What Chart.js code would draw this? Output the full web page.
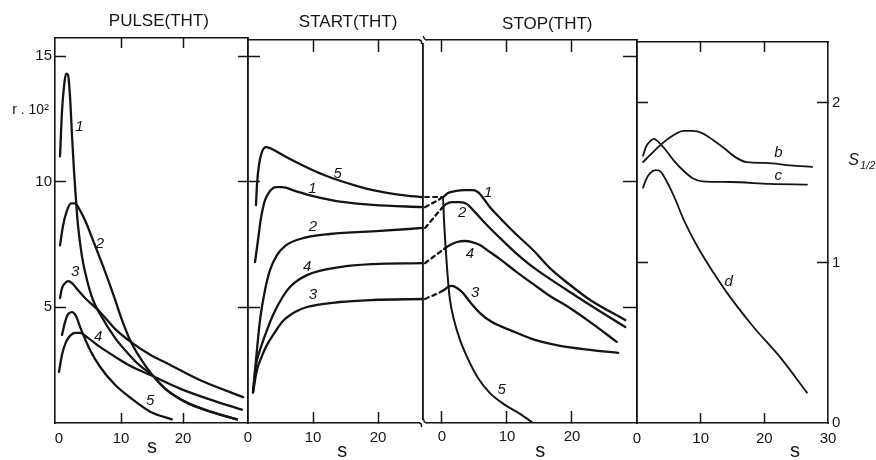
<!DOCTYPE html>
<html><head><meta charset="utf-8">
<script src="https://cdn.jsdelivr.net/npm/chart.js@4.4.1/dist/chart.umd.min.js"></script>
<style>
html,body{margin:0;padding:0;background:#fff;}
#wrap{position:relative;width:876px;height:460px;overflow:hidden;background:#fff;}
#wrap canvas{position:absolute;left:0;top:0;}
</style></head><body>
<div id="wrap">
<canvas id="cPulse" width="876" height="460"></canvas>
<canvas id="cStart" width="876" height="460"></canvas>
<canvas id="cStop" width="876" height="460"></canvas>
<canvas id="cRight" width="876" height="460"></canvas>
</div>
<script>
// ---------------- DATA ----------------
// PULSE(THT): time s, r.10^2
const pulse1S = [0.16,0.48,0.81,1.13,1.45,1.77,2.1,2.42,2.74,3.06,3.71,4.52,5.48,6.61,9.03,11.45,13.06,15.0,17.1,20.3,24.4,28.7];
const pulse1R = [11.0,12.8,13.8,14.3,14.25,13.4,11.8,10.4,9.25,8.25,7.0,6.07,5.28,4.72,3.77,3.06,2.66,2.30,1.75,1.23,0.83,0.52];
const pulse2S = [0.16,0.65,1.29,1.94,2.58,3.39,4.35,5.48,6.61,7.74,9.03,10.16,11.45,13.06,15.0,17.1,20.3,24.4,28.7];
const pulse2R = [7.46,8.25,8.85,9.13,9.13,8.85,8.37,7.66,6.94,6.20,5.30,4.48,3.69,2.98,2.30,1.75,1.23,0.83,0.52];
const pulse3S = [0.16,0.48,0.97,1.45,2.1,3.06,4.19,6.61,9.03,11.9,14.7,17.4,22.7,29.7];
const pulse3R = [5.36,5.75,5.95,6.03,5.95,5.67,5.36,4.80,4.13,3.55,3.10,2.76,2.09,1.41];
const pulse4S = [0.0,0.48,1.13,1.77,2.58,3.39,4.68,6.61,9.03,11.45,15.0,19.5,24.4,29.5];
const pulse4R = [2.42,3.10,3.61,3.85,3.97,3.97,3.77,3.41,3.02,2.66,2.26,1.75,1.31,0.91];
const pulse5S = [0.48,0.97,1.45,2.1,2.74,3.39,5.0,6.61,9.03,11.9,14.7,18.2];
const pulse5R = [3.89,4.40,4.72,4.80,4.64,4.21,3.29,2.62,1.90,1.31,0.83,0.52];

// START(THT)
const start5S = [1.23,1.38,1.69,2.15,2.77,3.38,4.92,6.46,9.08,11.5,14.15,16.8,19.2,23.4,26.9];
const start5R = [9.06,9.86,10.66,11.18,11.37,11.33,11.12,10.90,10.56,10.28,10.03,9.82,9.66,9.47,9.38];
const start1S = [1.08,1.54,2.0,2.62,3.38,4.31,5.23,7.23,9.08,11.5,14.15,19.2,26.9];
const start1R = [6.79,7.67,8.55,9.26,9.62,9.78,9.78,9.63,9.48,9.33,9.20,9.07,8.98];
const start2S = [0.77,1.23,1.85,2.62,3.38,4.46,5.69,8.0,12.6,20.3,26.9];
const start2R = [1.6,2.89,4.48,5.68,6.47,7.07,7.43,7.71,7.91,8.03,8.15];
const start4S = [0.77,1.23,1.85,2.92,3.85,5.23,6.46,9.08,14.15,19.2,26.9];
const start4R = [1.6,2.69,3.29,4.08,4.68,5.36,5.80,6.27,6.59,6.71,6.75];
const start3S = [0.77,1.38,2.15,2.92,4.15,5.38,7.23,9.08,14.15,19.2,26.9];
const start3R = [1.6,2.49,3.05,3.49,4.0,4.44,4.80,5.0,5.20,5.28,5.32];

// STOP(THT) (first point: dashed link from the START level)
const stop5S = [-2.6,0.15,0.31,0.62,0.92,1.23,1.85,2.77,3.85,5.54,7.38,9.69,12.0,14.0];
const stop5R = [9.38,9.38,8.47,7.15,6.08,5.28,4.48,3.69,3.01,2.17,1.57,1.10,0.74,0.38];
const stop1S = [-2.6,0.15,0.92,2.0,3.54,4.77,5.54,7.38,8.92,11.2,14.0,16.6,19.7,22.8,28.2];
const stop1R = [8.98,9.38,9.54,9.62,9.66,9.66,9.58,8.98,8.55,7.95,7.27,6.55,5.88,5.28,4.48];
const stop2S = [-2.6,0.0,0.62,1.54,2.77,3.85,5.08,6.31,8.92,11.2,14.0,19.2,23.5,28.2];
const stop2R = [8.15,8.94,9.10,9.18,9.18,9.10,8.78,8.43,7.75,7.19,6.59,5.68,4.96,4.20];
const stop4S = [-2.6,0.31,1.23,2.31,3.54,4.62,5.85,7.38,8.92,11.5,14.0,16.6,19.2,22.8,26.9];
const stop4R = [6.75,7.31,7.47,7.59,7.63,7.59,7.47,7.19,6.91,6.39,5.92,5.44,5.04,4.40,3.61];
const stop3S = [-2.6,0.31,0.92,1.54,2.31,3.23,4.31,5.85,7.69,10.5,14.3,18.2,22.8,27.1];
const stop3R = [5.32,5.68,5.80,5.84,5.76,5.56,5.20,4.76,4.40,4.08,3.69,3.45,3.29,3.17];

// Right panel: S1/2
const curveBS = [0.94,2.19,3.75,5.78,7.34,8.75,10.3,11.9,13.6,15.5,17.3,20.2,24.1,27.5];
const curveBV = [1.63,1.68,1.74,1.80,1.825,1.825,1.81,1.77,1.72,1.66,1.63,1.625,1.61,1.60];
const curveCS = [0.94,1.41,2.03,2.66,3.28,4.22,5.78,7.34,8.75,10.3,14.7,20.9,26.7];
const curveCV = [1.67,1.725,1.76,1.775,1.76,1.72,1.64,1.575,1.53,1.51,1.506,1.494,1.49];
const curveDS = [0.94,1.41,2.03,2.97,3.75,4.53,5.78,7.34,9.53,12.0,14.2,18.3,22.5,26.7];
const curveDV = [1.47,1.52,1.56,1.58,1.57,1.52,1.42,1.27,1.10,0.94,0.81,0.60,0.41,0.19];

// Ticks
const rTicks = [5,10,15];
const rTickLabels = ['5','10','15'];
const sTicks = [0,10,20];
const sTickLabels = ['0','10','20'];
const sRightTicks = [0,10,20,30];
const sRightTickLabels = ['0','10','20','30'];
const halfTicks = [0,1,2];
const halfTickLabels = ['0','1','2'];

// Texts
const pulseTitle = 'PULSE(THT)', startTitle = 'START(THT)', stopTitle = 'STOP(THT)';
const rAxisTitle = 'r . 10\u00B2';
const sAxisTitle = 's';
const pulseCurveNames = ['1','2','3','4','5'];
const startCurveNames = ['5','1','2','4','3'];
const stopCurveNames = ['1','2','4','3','5'];
const rightCurveNames = ['b','c','d'];

// ---------------- HELPERS ----------------
const INK = '#141414';
const FONT = '"Liberation Sans", Arial, Helvetica, sans-serif';
const XH = 30;   // height reserved for labelled x axes
const YW = 40;   // width reserved for labelled y axes

function series(xs, ys, w, dashFirst) {
  const ds = {
    data: xs.map((x, i) => ({x: x, y: ys[i]})),
    borderColor: INK, borderWidth: w, pointRadius: 0, fill: false,
    cubicInterpolationMode: 'monotone', borderJoinStyle: 'round', borderCapStyle: 'round'
  };
  if (dashFirst) ds.segment = { borderDash: c => c.p0DataIndex === 0 ? [4, 4] : undefined };
  return ds;
}

function axis(pos, min, max, tickVals, labels, o) {
  o = o || {};
  const horiz = pos === 'top' || pos === 'bottom';
  const hide = o.hide || [];
  const size = labels ? (horiz ? XH : YW) : 0;
  return {
    type: 'linear', position: pos, min: min, max: max, display: true,
    afterFit: s => { if (horiz) s.height = size; else s.width = size; },
    afterBuildTicks: s => { s.ticks = tickVals.map(v => ({value: v})); },
    grid: { display: true, drawOnChartArea: false, drawTicks: true,
      tickLength: (o.tl !== undefined ? o.tl : -11), tickWidth: 1.5,
      tickColor: c => (c.tick && hide.indexOf(c.tick.value) >= 0) ? 'rgba(0,0,0,0)' : INK },
    border: { display: true, color: INK, width: 1.6 },
    ticks: { display: !!labels, autoSkip: false, maxRotation: 0, minRotation: 0,
      padding: (o.pad !== undefined ? o.pad : 17), color: INK, font: {family: FONT, size: 15},
      callback: v => { const i = tickVals.indexOf(v); return (labels && i >= 0) ? labels[i] : ''; } }
  };
}

function textPlugin(items, extra) {
  return {
    id: 'texts',
    afterDatasetsDraw(chart) {
      const ctx = chart.ctx, xs = chart.scales.x, ys = chart.scales.y;
      items.forEach(it => {
        const px = xs.getPixelForValue(it.x), py = ys.getPixelForValue(it.y);
        ctx.save();
        ctx.fillStyle = INK;
        ctx.textAlign = it.align || 'center';
        ctx.textBaseline = 'middle';
        ctx.font = it.font;
        ctx.fillText(it.t, px, py);
        if (it.sub) {
          const w = ctx.measureText(it.t).width;
          ctx.font = it.subFont;
          ctx.textAlign = 'left';
          ctx.fillText(it.sub, px + (it.align === 'left' ? w : w / 2) + 1, py + 5);
        }
        ctx.restore();
      });
      if (extra) extra(chart);
    }
  };
}

// area: desired chart area; ly / ry flag labelled left / right axes
function makeChart(id, area, scales, datasets, plugin) {
  const pad = {
    left: area.l - (area.ly ? YW : 0),
    top: area.t,
    right: 876 - area.r - (area.ry ? YW : 0),
    bottom: 460 - area.b - XH
  };
  return new Chart(document.getElementById(id), {
    type: 'line',
    data: { datasets: datasets },
    options: {
      responsive: false, animation: false, devicePixelRatio: 1, events: [],
      layout: { padding: pad },
      plugins: { legend: { display: false }, tooltip: { enabled: false }, title: { display: false } },
      scales: scales
    },
    plugins: [plugin]
  });
}

const LBL = 'italic 15px ' + FONT;
const TTL = '17px ' + FONT;
const AX = '20px ' + FONT;

// ---------------- PULSE ----------------
const pMin = -0.65, pMax = 30.48, rMinP = 0.378, rMaxP = 15.72;
makeChart('cPulse', {l: 55, t: 38, r: 248, b: 423, ly: true}, {
  x: axis('bottom', pMin, pMax, sTicks, sTickLabels, {hide: [0], tl: -10}),
  x2: axis('top', pMin, pMax, [10, 20], null, {tl: -10}),
  y: axis('left', rMinP, rMaxP, rTicks, rTickLabels, {tl: -11, pad: 14}),
  y2: axis('right', rMinP, rMaxP, rTicks, null, {tl: -10})
}, [
  series(pulse1S, pulse1R, 2.3), series(pulse2S, pulse2R, 2.3), series(pulse3S, pulse3R, 2.3),
  series(pulse4S, pulse4R, 2.3), series(pulse5S, pulse5R, 2.3)
], textPlugin([
  {t: pulseTitle, x: 16.1, y: 16.39, font: TTL},
  {t: rAxisTitle, x: -4.6, y: 12.85, font: '14px ' + FONT},
  {t: sAxisTitle, x: 15.0, y: -0.6, font: AX},
  {t: pulseCurveNames[0], x: 3.3, y: 12.2, font: LBL},
  {t: pulseCurveNames[1], x: 6.6, y: 7.5, font: LBL},
  {t: pulseCurveNames[2], x: 2.6, y: 6.4, font: LBL},
  {t: pulseCurveNames[3], x: 6.3, y: 3.8, font: LBL},
  {t: pulseCurveNames[4], x: 14.7, y: 1.25, font: LBL}
]));

// ---------------- START ----------------
const stMin = 0, stMax = 26.92, rMinM = 0.378, rMaxM = 15.64;
makeChart('cStart', {l: 248, t: 40, r: 423, b: 423}, {
  x: axis('bottom', stMin, stMax, sTicks, sTickLabels, {hide: [0]}),
  x2: axis('top', stMin, stMax, [10, 20], null, {tl: -12}),
  y: axis('left', rMinM, rMaxM, rTicks, null, {tl: -12}),
  y2: axis('right', rMinM, rMaxM, [], null)
}, [
  series(start5S, start5R, 2.3), series(start1S, start1R, 2.3), series(start2S, start2R, 2.3),
  series(start4S, start4R, 2.3), series(start3S, start3R, 2.3)
], textPlugin([
  {t: startTitle, x: 15.4, y: 16.35, font: TTL},
  {t: sAxisTitle, x: 14.5, y: -0.75, font: AX},
  {t: startCurveNames[0], x: 13.8, y: 10.3, font: LBL},
  {t: startCurveNames[1], x: 9.9, y: 9.72, font: LBL},
  {t: startCurveNames[2], x: 10.0, y: 8.2, font: LBL},
  {t: startCurveNames[3], x: 9.1, y: 6.62, font: LBL},
  {t: startCurveNames[4], x: 10.0, y: 5.5, font: LBL}
]));

// ---------------- STOP ----------------
const spMin = -2.92, spMax = 30.0;
function breakMarks(chart) {
  const ctx = chart.ctx, a = chart.chartArea;
  [a.top, a.bottom].forEach(y => {
    const x = a.left;
    ctx.save();
    ctx.fillStyle = '#fff';
    ctx.fillRect(x - 3, y - 3, 6, 6);
    ctx.strokeStyle = INK; ctx.lineWidth = 1.5;
    ctx.beginPath();
    ctx.moveTo(x - 4, y); ctx.quadraticCurveTo(x - 1, y, x - 1.5, y + 4);
    ctx.moveTo(x + 0.5, y - 4); ctx.quadraticCurveTo(x + 1, y, x + 4, y);
    ctx.stroke();
    ctx.restore();
  });
}
makeChart('cStop', {l: 423, t: 40, r: 637, b: 423}, {
  x: axis('bottom', spMin, spMax, sTicks, sTickLabels, {tl: -12}),
  x2: axis('top', spMin, spMax, sTicks, null, {tl: -12}),
  y: axis('left', rMinM, rMaxM, [], null),
  y2: axis('right', rMinM, rMaxM, rTicks, null, {tl: -14})
}, [
  series(stop1S, stop1R, 2.3, true), series(stop2S, stop2R, 2.3, true), series(stop4S, stop4R, 2.3, true),
  series(stop3S, stop3R, 2.3, true), series(stop5S, stop5R, 2.0, true)
], textPlugin([
  {t: stopTitle, x: 16.2, y: 16.27, font: TTL},
  {t: sAxisTitle, x: 15.1, y: -0.75, font: AX},
  {t: stopCurveNames[0], x: 7.1, y: 9.56, font: LBL},
  {t: stopCurveNames[1], x: 3.1, y: 8.74, font: LBL},
  {t: stopCurveNames[2], x: 4.3, y: 7.1, font: LBL},
  {t: stopCurveNames[3], x: 5.1, y: 5.56, font: LBL},
  {t: stopCurveNames[4], x: 9.2, y: 1.7, font: LBL}
], breakMarks));

// ---------------- RIGHT (S1/2) ----------------
const rtMin = 0, rtMax = 30, hMin = 0, hMax = 2.381;
makeChart('cRight', {l: 637, t: 42, r: 828, b: 423, ry: true}, {
  x: axis('bottom', rtMin, rtMax, sRightTicks, sRightTickLabels, {hide: [0, 30], tl: -10}),
  x2: axis('top', rtMin, rtMax, [10, 20], null, {tl: -10}),
  y: axis('left', hMin, hMax, [1, 2], null, {tl: -11}),
  y2: axis('right', hMin, hMax, halfTicks, halfTickLabels, {hide: [0], tl: -11, pad: 15})
}, [
  series(curveBS, curveBV, 1.8), series(curveCS, curveCV, 1.8), series(curveDS, curveDV, 1.8)
], textPlugin([
  {t: sAxisTitle, x: 24.8, y: -0.18, font: AX},
  {t: 'S', sub: '1/2', x: 33.2, y: 1.64, align: 'left', font: 'italic 16px ' + FONT, subFont: 'italic 11px ' + FONT},
  {t: rightCurveNames[0], x: 22.2, y: 1.69, font: LBL},
  {t: rightCurveNames[1], x: 22.2, y: 1.545, font: LBL},
  {t: rightCurveNames[2], x: 14.4, y: 0.88, font: LBL}
]));
</script>
</body></html>
